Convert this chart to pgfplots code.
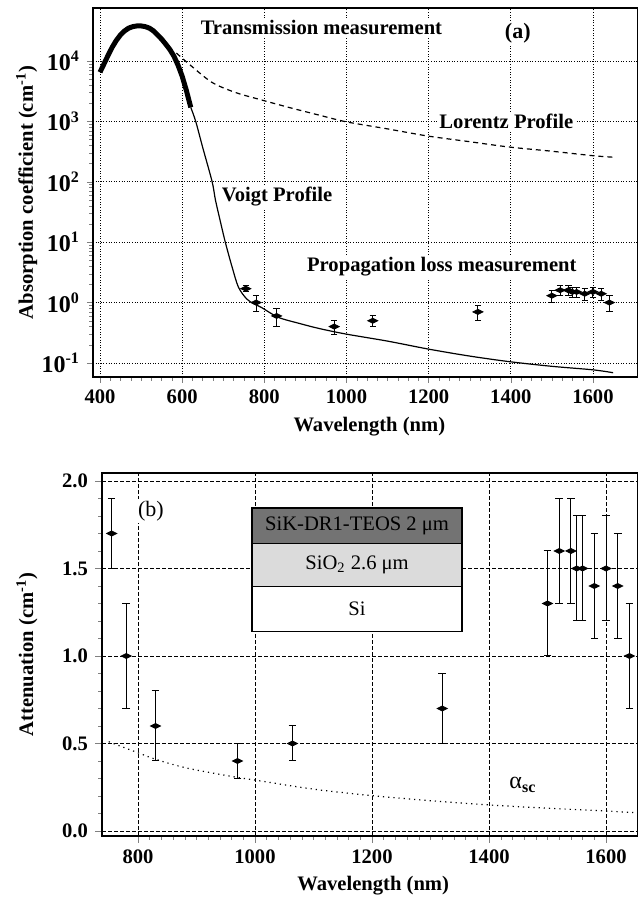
\documentclass[border=0pt]{standalone}
\usepackage{fontspec}
\setmainfont{Liberation Serif}
\usepackage{pgfplots}
\pgfplotsset{compat=1.18}
\definecolor{darkband}{gray}{0.45}
\definecolor{lightband}{gray}{0.86}
\newcommand{\fs}{\fontsize{10.3}{12}\selectfont}
\begin{document}
\begin{tikzpicture}
\useasboundingbox (0,0) rectangle (318.5pt,448.5pt);
% ---------------- panel (a) ----------------
\begin{axis}[
  scale only axis, width=272.5pt, height=184.5pt,
  at={(46.5pt,260pt)}, anchor=south west,
  xmin=383, xmax=1709.6, ymode=log, ymin=0.0586, ymax=75300,
  xtick={400,600,...,1600}, minor x tick num=7,
  ytick={0.1,1,10,100,1000,10000},
  yticklabels={10\textsuperscript{-1},10\textsuperscript{0},10\textsuperscript{1},10\textsuperscript{2},10\textsuperscript{3},10\textsuperscript{4}},
  /pgf/number format/assume math mode=true, /pgf/number format/1000 sep={},
  xticklabel style={font=\fs\bfseries, black},
  yticklabel style={font=\fontsize{12}{14}\selectfont\bfseries, black},
  tick align=outside, tick pos=left,
  major tick length=3pt, minor tick length=1.8pt,
  axis line style={line width=0.9pt},
  grid=major, major grid style={black, line width=0.35pt, dash pattern=on 0.5pt off 0.8pt},
  xlabel={Wavelength (nm)}, ylabel={Absorption coefficient (cm\textsuperscript{-1})},
  label style={font=\fs\bfseries},
  xlabel style={at={(axis description cs:0.507,-0.1355)}, anchor=center},
  ylabel style={at={(axis description cs:-0.1215,0.5)}, anchor=center},
]
% transmission measurement (thick)
\addplot[black, line width=2.5pt] coordinates {
(400,6500)(410,9000)(420,12500)(430,17000)(440,22000)(450,27000)(460,31500)
(470,35000)(480,37000)(490,38000)(500,38000)(510,37000)(520,35000)(530,31500)
(540,27000)(550,23000)(560,19000)(570,15500)(580,12000)(590,8500)(600,5600)
(610,3300)(621,1700)};
% Voigt profile
\addplot[black, line width=0.6pt, smooth] coordinates {
(621,1700)(633,1000)(650,370)(673,100)(681,50)(693,22)(705,10)(721,4)(737,1.8)
(757,1.15)(775,0.95)(793,0.83)(834,0.57)(886,0.45)(935,0.37)(1000,0.30)(1100,0.23)
(1199,0.17)(1300,0.13)(1397,0.105)(1500,0.088)(1600,0.077)(1649,0.069)};
% Lorentz profile
\addplot[black, line width=0.6pt, dash pattern=on 2.5pt off 2pt, smooth] coordinates {
(586,13500)(620,8500)(673,4400)(730,3000)(789,2300)(860,1700)(935,1260)(1000,980)
(1100,750)(1199,570)(1300,460)(1397,375)(1500,320)(1600,270)(1649,255)};
% propagation loss
\addplot[black, only marks, mark=diamond*, mark size=1.25pt, mark options={xscale=2.67},
  error bars/.cd, y dir=both, y explicit,
  error bar style={line width=0.5pt, black},
  error mark options={rotate=90, mark size=1.6pt, line width=0.5pt, black}]
coordinates {
(755,1.7) +- (0,0.2)
(780,1.0) +- (0,0.3)
(830,0.6) +- (0,0.2)
(970,0.4) +- (0,0.1)
(1064,0.5) +- (0,0.1)
(1320,0.7) +- (0,0.2)
(1500,1.3) +- (0,0.3)
(1520,1.6) +- (0,0.3)
(1540,1.6) +- (0,0.3)
(1550,1.5) +- (0,0.3)
(1560,1.5) +- (0,0.3)
(1580,1.4) +- (0,0.3)
(1600,1.5) +- (0,0.3)
(1620,1.4) +- (0,0.3)
(1640,1.0) +- (0,0.3)};
\node[font=\fs\bfseries, fill=white, inner sep=1pt] at (axis cs:939,36500) {Transmission measurement};
\node[font=\fontsize{11}{13}\selectfont\bfseries, fill=white, inner sep=1pt] at (axis cs:1417,28800) {(a)};
\node[font=\fs\bfseries, fill=white, inner sep=1pt] at (axis cs:1389,1000) {Lorentz Profile};
\node[font=\fs\bfseries, fill=white, inner sep=1pt] at (axis cs:831,58) {Voigt Profile};
\node[font=\fs\bfseries, fill=white, inner sep=1pt] at (axis cs:1232,3.9) {Propagation loss measurement};
\end{axis}
% ---------------- panel (b) ----------------
\begin{axis}[
  scale only axis, width=268pt, height=181.5pt,
  at={(51pt,30.5pt)}, anchor=south west,
  xmin=738.5, xmax=1654.7, ymin=-0.0286, ymax=2.0457,
  xtick={800,1000,...,1600}, minor x tick num=9,
  ytick={0,0.5,...,2.0}, minor y tick num=4,
  /pgf/number format/assume math mode=true, /pgf/number format/1000 sep={},
  yticklabel style={/pgf/number format/.cd, fixed, fixed zerofill, precision=1},
  tick label style={font=\fs\bfseries, black},
  tick align=outside, tick pos=left,
  major tick length=3.5pt, minor tick length=2pt,
  axis line style={line width=0.9pt},
  grid=major, major grid style={black, line width=0.4pt, dash pattern=on 2pt off 1pt},
  xlabel={Wavelength (nm)}, ylabel={Attenuation (cm\textsuperscript{-1})},
  label style={font=\fs\bfseries},
  xlabel style={at={(axis description cs:0.506,-0.138)}, anchor=center},
  ylabel style={at={(axis description cs:-0.14,0.5)}, anchor=center},
]
% inset layer structure
\draw[line width=0.6pt, fill=darkband] (axis cs:995,1.846) rectangle (axis cs:1354,1.644);
\draw[line width=0.6pt, fill=lightband] (axis cs:995,1.644) rectangle (axis cs:1354,1.396);
\draw[line width=0.6pt, fill=white] (axis cs:995,1.396) rectangle (axis cs:1354,1.139);
\node[font=\fs] at (axis cs:1174.5,1.745) {SiK-DR1-TEOS 2 μm};
\node[font=\fs] at (axis cs:1174.5,1.52) {SiO\textsubscript{2} 2.6 μm};
\node[font=\fs] at (axis cs:1174.5,1.2675) {Si};
% scattering
\addplot[black, line width=0.6pt, dotted, smooth] coordinates {
(750,0.51)(800,0.447)(830,0.41)(883,0.36)(963,0.31)(1000,0.291)(1077,0.25)
(1111,0.234)(1200,0.202)(1300,0.173)(1400,0.149)(1500,0.13)(1600,0.114)(1654,0.104)};
% measurements
\addplot[black, only marks, mark=diamond*, mark size=1.25pt, mark options={xscale=2.67},
  error bars/.cd, y dir=both, y explicit,
  error bar style={line width=0.5pt, black},
  error mark options={rotate=90, mark size=1.9pt, line width=0.5pt, black}]
coordinates {
(755,1.7) +- (0,0.2)
(780,1.0) +- (0,0.3)
(830,0.6) +- (0,0.2)
(970,0.4) +- (0,0.1)
(1064,0.5) +- (0,0.1)
(1320,0.7) +- (0,0.2)
(1500,1.3) +- (0,0.3)
(1520,1.6) +- (0,0.3)
(1540,1.6) +- (0,0.3)
(1550,1.5) +- (0,0.3)
(1560,1.5) +- (0,0.3)
(1580,1.4) +- (0,0.3)
(1600,1.5) +- (0,0.3)
(1620,1.4) +- (0,0.3)
(1640,1.0) +- (0,0.3)};
\node[font=\fontsize{11}{13}\selectfont, fill=white, inner sep=1pt] at (axis cs:822,1.83) {(b)};
\node[font=\fontsize{12}{14}\selectfont] at (axis cs:1458,0.265) {α\textsubscript{\textbf{sc}}};
\end{axis}
\end{tikzpicture}
\end{document}
